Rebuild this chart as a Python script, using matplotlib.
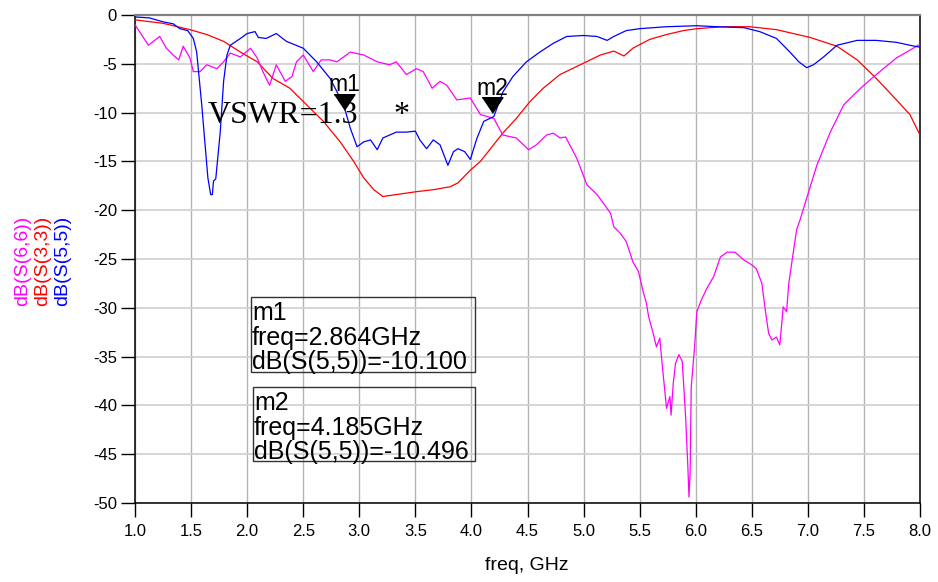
import matplotlib
matplotlib.use("Agg")
import matplotlib.pyplot as plt
from matplotlib.patches import Rectangle
from matplotlib.transforms import ScaledTranslation

plt.rcParams['font.family'] = ['Liberation Sans', 'DejaVu Sans']
plt.rcParams['axes.unicode_minus'] = False

# ---------------- data ----------------
s55_freq = [1.00, 1.13, 1.25, 1.34, 1.40, 1.47, 1.52, 1.55, 1.595, 1.65, 1.675, 1.69, 1.70, 1.72,
            1.76, 1.79, 1.82, 1.85, 1.94, 2.00, 2.07, 2.10, 2.17, 2.26, 2.35, 2.50, 2.62, 2.74,
            2.86, 2.92, 2.98, 3.04, 3.10, 3.16, 3.21, 3.33, 3.42, 3.50, 3.54, 3.60, 3.66, 3.72,
            3.79, 3.84, 3.88, 3.94, 3.99, 4.05, 4.11, 4.20, 4.28, 4.37, 4.49, 4.61, 4.73, 4.85,
            5.00, 5.12, 5.21, 5.27, 5.38, 5.50, 5.74, 6.01, 6.19, 6.43, 6.57, 6.72, 6.84, 6.92,
            6.99, 7.05, 7.14, 7.26, 7.44, 7.61, 7.79, 7.91, 8.00]
s55_db = [-0.2, -0.3, -0.7, -0.9, -1.4, -1.6, -2.4, -3.8, -9.2, -16.7, -18.4, -18.4, -17.0, -16.8,
          -12.0, -6.8, -4.1, -3.1, -2.4, -1.9, -1.7, -2.3, -2.4, -1.9, -2.7, -3.4, -4.8, -6.5,
          -9.2, -11.6, -13.5, -13.0, -12.8, -13.8, -12.6, -12.0, -12.0, -11.9, -12.8, -13.7, -12.8, -13.3,
          -15.4, -14.0, -13.7, -14.0, -14.8, -12.6, -10.9, -10.4, -7.9, -6.3, -4.8, -3.8, -2.9, -2.2,
          -2.1, -2.2, -2.6, -2.2, -1.6, -1.4, -1.2, -1.1, -1.2, -1.3, -1.7, -2.4, -3.8, -4.8,
          -5.4, -5.1, -4.3, -3.1, -2.6, -2.6, -2.8, -3.1, -3.3]

s33_freq = [1.00, 1.25, 1.49, 1.64, 1.79, 1.94, 2.09, 2.23, 2.38, 2.53, 2.68, 2.83, 2.95, 3.04,
            3.13, 3.21, 3.33, 3.51, 3.66, 3.81, 3.88, 3.99, 4.08, 4.17, 4.28, 4.40, 4.52, 4.64,
            4.79, 4.97, 5.15, 5.27, 5.36, 5.44, 5.59, 5.74, 5.89, 6.01, 6.25, 6.48, 6.72, 7.02,
            7.26, 7.44, 7.61, 7.79, 7.91, 8.00]
s33_db = [-0.5, -0.85, -1.5, -2.0, -2.7, -3.8, -4.8, -6.5, -7.5, -9.2, -10.9, -13.0, -15.0, -16.7,
          -17.9, -18.6, -18.4, -18.1, -17.9, -17.6, -17.2, -15.9, -15.0, -13.7, -12.1, -10.6, -8.9, -7.5,
          -6.1, -5.1, -4.1, -3.7, -4.2, -3.4, -2.5, -2.0, -1.6, -1.4, -1.2, -1.2, -1.5, -2.3,
          -3.2, -4.6, -6.5, -8.7, -10.2, -12.3]

s66_freq = [1.00, 1.04, 1.12, 1.22, 1.28, 1.34, 1.39, 1.43, 1.49, 1.52, 1.58, 1.64, 1.73, 1.79,
            1.85, 1.94, 2.03, 2.09, 2.14, 2.20, 2.26, 2.34, 2.40, 2.44, 2.50, 2.59, 2.66, 2.74,
            2.80, 2.92, 3.04, 3.16, 3.27, 3.33, 3.42, 3.51, 3.57, 3.65, 3.72, 3.78, 3.87, 3.99,
            4.08, 4.20, 4.28, 4.40, 4.51, 4.58, 4.67, 4.73, 4.79, 4.84, 4.94, 5.03, 5.12, 5.19,
            5.24, 5.27, 5.33, 5.38, 5.44, 5.49, 5.53, 5.56, 5.58, 5.62, 5.65, 5.68, 5.70, 5.74,
            5.77, 5.78, 5.80, 5.82, 5.85, 5.88, 5.89, 5.91, 5.93, 5.94, 5.95, 5.96, 5.99, 6.01,
            6.05, 6.10, 6.16, 6.22, 6.28, 6.35, 6.43, 6.50, 6.54, 6.59, 6.62, 6.65, 6.68, 6.72,
            6.75, 6.78, 6.81, 6.83, 6.86, 6.90, 6.93, 6.97, 7.08, 7.20, 7.32, 7.47, 7.61, 7.79,
            7.91, 8.00]
s66_db = [-1.0, -1.7, -3.1, -2.2, -3.4, -4.1, -4.6, -3.2, -4.4, -5.8, -5.8, -5.1, -5.5, -4.8,
          -3.9, -4.3, -3.4, -4.4, -5.8, -7.2, -5.1, -6.8, -6.3, -4.8, -4.1, -5.8, -4.6, -4.6,
          -4.8, -3.8, -4.1, -4.8, -5.1, -4.8, -6.1, -5.5, -5.8, -7.5, -6.8, -7.2, -8.7, -8.5,
          -10.2, -10.6, -12.3, -12.6, -13.8, -13.3, -12.3, -12.1, -12.6, -12.5, -14.7, -17.4, -18.4, -19.5,
          -20.3, -21.7, -22.4, -23.2, -25.3, -26.3, -28.3, -29.5, -30.9, -32.6, -34.0, -33.1, -35.7, -40.3,
          -39.1, -41.0, -37.7, -35.7, -34.8, -35.5, -37.4, -41.2, -46.3, -49.4, -47.0, -38.1, -34.0, -30.4,
          -29.2, -28.0, -26.8, -24.8, -24.3, -24.3, -25.1, -25.6, -26.0, -27.5, -30.2, -32.6, -33.3, -33.0,
          -33.8, -29.9, -30.4, -27.5, -25.1, -22.0, -21.0, -19.5, -15.4, -12.0, -9.2, -7.5, -6.1, -4.4,
          -3.6, -3.0]

marker_names = ["m1", "m2"]
marker_freqs = [2.864, 4.185]
marker_vals = [-10.100, -10.496]

x_ticks = [1.0, 1.5, 2.0, 2.5, 3.0, 3.5, 4.0, 4.5, 5.0, 5.5, 6.0, 6.5, 7.0, 7.5, 8.0]
y_ticks = [0, -5, -10, -15, -20, -25, -30, -35, -40, -45, -50]

# ---------------- figure ----------------
W, H = 938, 582
fig = plt.figure(figsize=(W / 100, H / 100), dpi=100)
ax = fig.add_axes([135 / W, 1 - 503 / H, 785 / W, 488 / H])

ax.plot(s33_freq, s33_db, color='#FF0000', lw=0.9, zorder=3)
ax.plot(s55_freq, s55_db, color='#0000FF', lw=0.9, zorder=4)
ax.plot(s66_freq, s66_db, color='#FF00FF', lw=0.9, zorder=3)

ax.set_xlim(1.0, 8.0)
ax.set_ylim(-50, 0)
ax.set_xticks(x_ticks)
ax.set_xticklabels([f"{t:.1f}" for t in x_ticks])
ax.set_yticks(y_ticks)
ax.set_yticklabels([f"{t:d}" for t in y_ticks])
ax.tick_params(axis='both', direction='out', length=10, width=1.0, color='black',
               labelsize=12, pad=3)
ax.tick_params(axis='x', pad=5)

ax.set_axisbelow(True)
ax.xaxis.grid(True, color='#b4b4b4', lw=1.0)
ax.yaxis.grid(True, color='#d2d2d2', lw=1.3)

for side in ['left', 'bottom', 'right']:
    ax.spines[side].set_color('black')
    ax.spines[side].set_linewidth(1.1)
ax.spines['top'].set_color('#808080')
ax.spines['top'].set_linewidth(1.6)

# axis labels
fig.text(527 / W, 1 - 566 / H, "freq, GHz", ha='center', va='center', fontsize=14)
for xc, txt, col in [(22.5, "dB(S(6,6))", '#FF00FF'), (42.5, "dB(S(3,3))", '#FF0000'),
                     (62.5, "dB(S(5,5))", '#0000FF')]:
    fig.text(xc / W, 1 - 261 / H, txt, rotation=90, ha='center', va='center',
             fontsize=14, color=col)

# markers
tri = [(-1, 0.75), (1, 0.75), (0, -0.75)]
for name, f, v in zip(marker_names, marker_freqs, marker_vals):
    off = ScaledTranslation(0, 0.12, fig.dpi_scale_trans)
    ax.plot([f], [v], marker=tri, markersize=15, color='black', linestyle='none',
            transform=ax.transData + off, zorder=6, clip_on=False)
    ax.annotate(name, (f, v), xytext=(0, 16.5), textcoords='offset points',
                ha='center', va='baseline', fontsize=16.5, zorder=7)

# readout boxes
boxes = [(251, 297, 475, 372), (253, 387, 475, 461)]
for (x0, y0, x1, y1), name, f, v in zip(boxes, marker_names, marker_freqs, marker_vals):
    ax.add_patch(Rectangle(((x0 - 135) / 785, (503 - y1) / 488), (x1 - x0) / 785, (y1 - y0) / 488,
                           transform=ax.transAxes, fill=True, facecolor='none',
                           edgecolor='#333333', lw=1.0, zorder=5))
    ax.text((x0 + 1 - 135) / 785, (503 - y0 - 4) / 488,
            f"{name}\nfreq={f:.3f}GHz\ndB(S(5,5))={v:.3f}",
            transform=ax.transAxes, ha='left', va='top', fontsize=18,
            linespacing=1.03, zorder=6)

# VSWR annotation
ax.text((208 - 135) / 785, (503 - 123) / 488, "VSWR=1.3", transform=ax.transAxes,
        ha='left', va='baseline', fontsize=23, family='Liberation Serif', zorder=6)
ax.text((393 - 135) / 785, (503 - 123) / 488, "*", transform=ax.transAxes,
        ha='left', va='baseline', fontsize=23, family='Liberation Serif', zorder=6)

fig.savefig("out.png", dpi=100)
